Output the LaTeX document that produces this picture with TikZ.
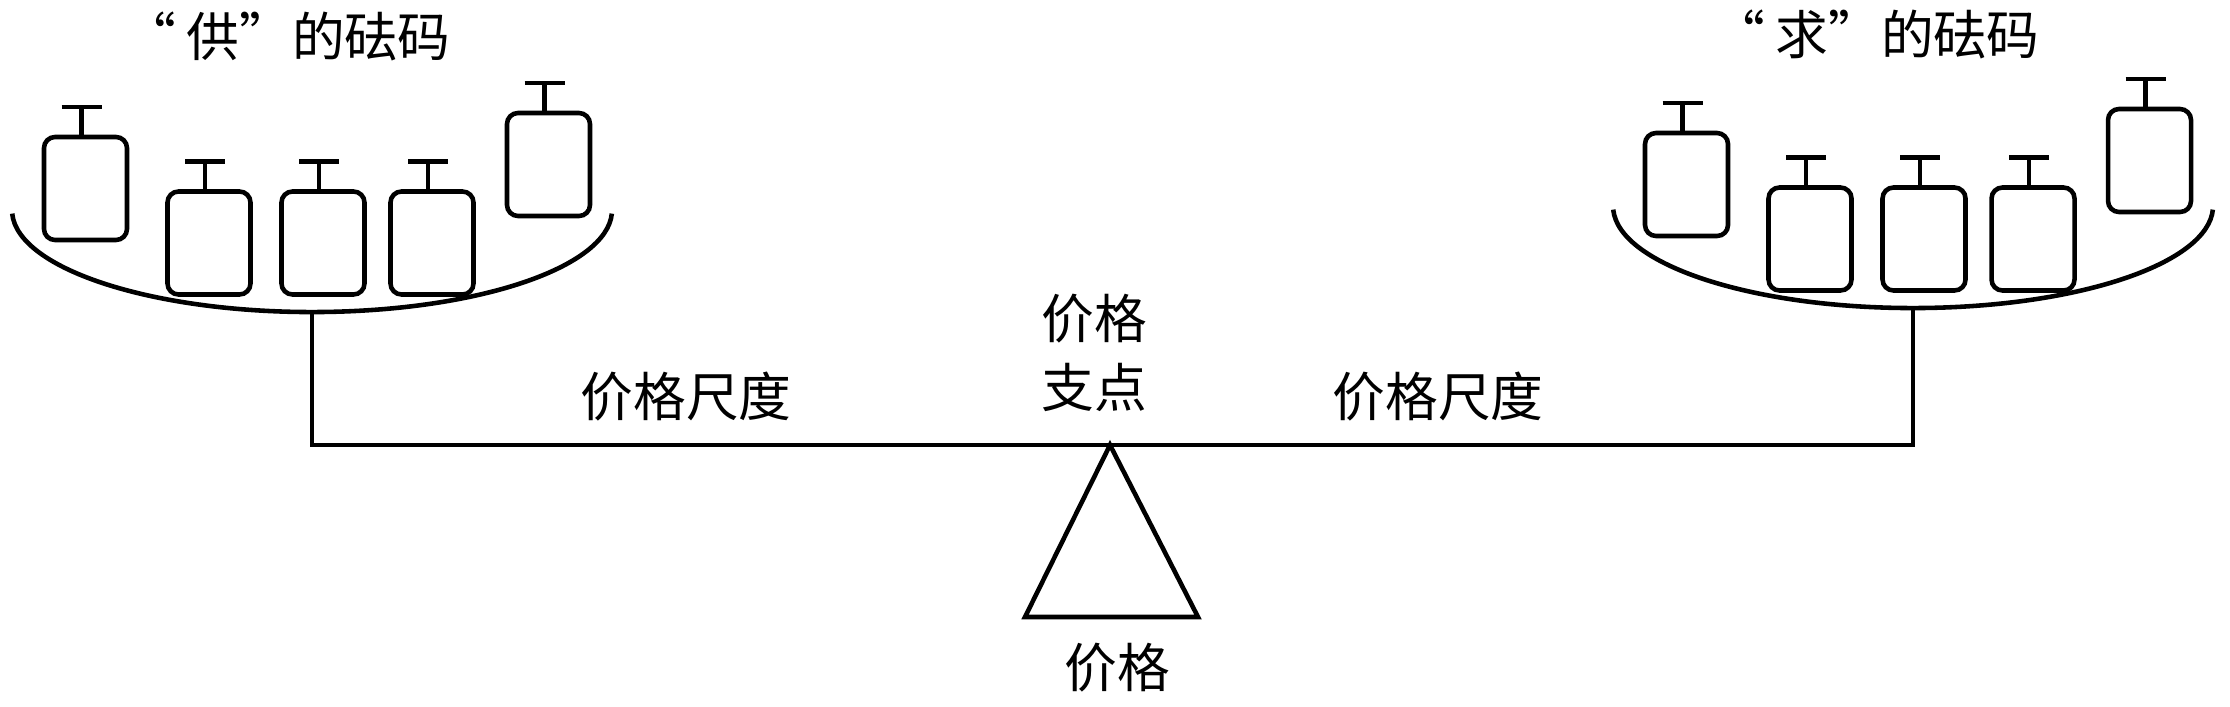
\documentclass[tikz,border=0pt]{standalone}
\usepackage{fontspec}
\newfontfamily\cjk{Noto Sans CJK SC}
\newcommand\myLQ[1]{\makebox[1em][r]{#1\hspace{0.2em}}}
\newcommand\myRQ[1]{\makebox[1em][l]{#1}}
\begin{document}
\begin{tikzpicture}[x=0.1mm,y=-0.1mm,line width=1.3pt,
  weight/.style={draw,rounded corners=1.1mm,minimum width=8.3mm,minimum height=10.3mm,inner sep=0pt,outer sep=0pt},
  lbl/.style={font=\cjk\fontsize{15}{19.6}\selectfont,inner sep=0pt,align=center},
  pan/.pic={
    \draw (-299.8,3.6) arc[start angle=178,end angle=2,x radius=300,y radius=102];
    \coordinate (-bot) at (0,102);
    \node[weight] (-w1) at (-226.5,-21.5) {};
    \node[weight] (-w2) at (-103,33) {};
    \node[weight] (-w3) at (11,33) {};
    \node[weight] (-w4) at (120,33) {};
    \node[weight] (-w5) at (236.5,-45.5) {};
    \foreach \w in {1,...,5}{
      \draw ([xshift=-0.4mm]-w\w.north) -- ++(0,3mm) ++(-2mm,0) -- ++(4mm,0);
    }
  }]
\useasboundingbox (0,0) rectangle (2230,706);
\pic (L) at (312,210) {pan};
\pic (R) at (1913,206) {pan};
\coordinate (apex) at (1110,445);
\coordinate (baseL) at (1025,617);
\coordinate (baseR) at (1198,617);
\draw[line join=miter] (L-bot) -- (L-bot |- apex) -- (R-bot |- apex) -- (R-bot);
\draw[line join=miter] (apex) -- (baseL) -- (baseR) -- cycle;
\node[lbl] (tL) at (292,36) {\myLQ{“}供\myRQ{”}的砝码};
\node[lbl] (tR) at (1881,34) {\myLQ{“}求\myRQ{”}的砝码};
\node[lbl] (pivot) at (1094,353) {价格\\支点};
\node[lbl] (scaleL) at (686,397) {价格尺度};
\node[lbl] (scaleR) at (1438,397) {价格尺度};
\node[lbl] (price) at (1117,668) {价格};
\end{tikzpicture}
\end{document}
